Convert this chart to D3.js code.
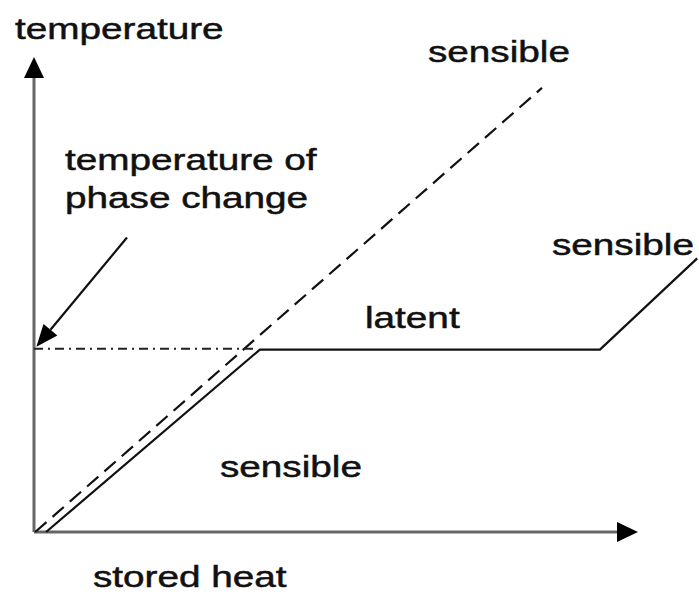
<!DOCTYPE html>
<html>
<head>
<meta charset="utf-8">
<script src="https://cdn.jsdelivr.net/npm/d3@7"></script>
<style>
  body { margin: 0; background: #fff; }
  text { font-family: "Liberation Sans", Arial, sans-serif; font-size: 30px; fill: #111; stroke: #111; stroke-width: 0.5px; }
</style>
</head>
<body>
<div id="chart"></div>
<script>
// values (stored heat on x, temperature on y, 0..100 on each axis)
var pcmHeat = [2, 37.4, 93.7, 109.8];
var pcmTemp = [0, 38.4, 38.4, 57.6];
var sensibleHeat = [0.2, 84.1];
var sensibleTemp = [0, 93.5];
var phaseHeat = [0, 37];
var phaseTemp = [38.6, 38.6];
var pointerHeat = [15.4, 0.4];
var pointerTemp = [62, 39];
var labels = ["temperature", "sensible", "temperature of", "phase change", "sensible", "latent", "sensible", "stored heat"];

var svg = d3.select("#chart").append("svg").attr("width", 699).attr("height", 594);

var x = d3.scaleLinear().domain([0, 100]).range([34, 638]);
var y = d3.scaleLinear().domain([0, 100]).range([532, 57]);

var line = d3.line().x(function(d) { return x(d[0]); }).y(function(d) { return y(d[1]); });

//axes with arrow heads
svg.append("line").attr("x1", x(0)).attr("y1", y(0)).attr("x2", x(0)).attr("y2", y(0) - 455)
  .attr("stroke", "#666").attr("stroke-width", 3);
svg.append("line").attr("x1", x(0)).attr("y1", y(0)).attr("x2", x(100) - 18).attr("y2", y(0))
  .attr("stroke", "#666").attr("stroke-width", 3);
svg.append("path").attr("d", "M" + x(0) + "," + y(100) + " l-10,21 l20,0 Z").attr("fill", "#000");
svg.append("path").attr("d", "M" + x(100) + "," + y(0) + " l-21,-10 l0,20 Z").attr("fill", "#000");

//dashed sensible-only line
svg.append("path").attr("d", line(d3.zip(sensibleHeat, sensibleTemp)))
  .attr("fill", "none").attr("stroke", "#111").attr("stroke-width", 2.2).attr("stroke-dasharray", "15,8");

//dash-dot temperature of phase change
svg.append("path").attr("d", line(d3.zip(phaseHeat, phaseTemp)))
  .attr("fill", "none").attr("stroke", "#222").attr("stroke-width", 2).attr("stroke-dasharray", "9,5,2,5");

//PCM line: sensible, latent, sensible
svg.append("path").attr("d", line(d3.zip(pcmHeat, pcmTemp)))
  .attr("fill", "none").attr("stroke", "#111").attr("stroke-width", 2.2);

//pointer arrow
var p = d3.zip(pointerHeat, pointerTemp);
var x0 = x(p[0][0]), y0 = y(p[0][1]), x1 = x(p[1][0]), y1 = y(p[1][1]);
var ang = Math.atan2(y1 - y0, x1 - x0);
var hl = 22, hw = 9;
var bx = x1 - hl * Math.cos(ang), by = y1 - hl * Math.sin(ang);
svg.append("line").attr("x1", x0).attr("y1", y0).attr("x2", bx).attr("y2", by)
  .attr("stroke", "#111").attr("stroke-width", 2.2);
svg.append("path").attr("fill", "#000")
  .attr("d", "M" + x1 + "," + y1 +
    " L" + (bx + hw * Math.sin(ang)) + "," + (by - hw * Math.cos(ang)) +
    " L" + (bx - hw * Math.sin(ang)) + "," + (by + hw * Math.cos(ang)) + " Z");

//labels (wide face, stretched horizontally)
var pos = [[15, 39], [428, 62], [65, 170], [65, 208], [552, 255], [365, 328], [220, 477], [93, 587]];
labels.forEach(function(t, i) {
  svg.append("text").attr("transform", "translate(" + pos[i][0] + "," + pos[i][1] + ") scale(1.29,1)").text(t);
});
</script>
</body>
</html>
